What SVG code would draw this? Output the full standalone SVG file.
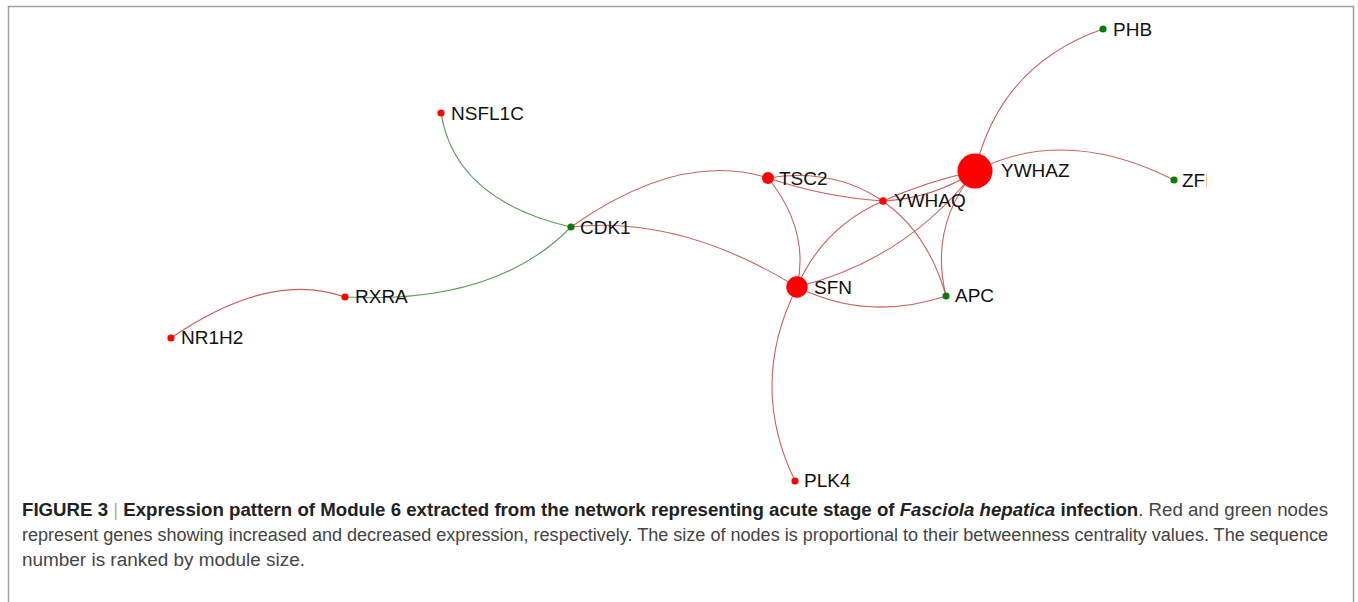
<svg xmlns="http://www.w3.org/2000/svg" width="1358" height="602" viewBox="0 0 1358 602">
<style>
.e{fill:none;stroke:#c8625e;stroke-width:1.1}
.g{fill:none;stroke:#5a9e5a;stroke-width:1.1}
.r{fill:#ff0000}
.gn{fill:#0b7a0b}
.lb{font-family:"Liberation Sans",Arial,sans-serif;font-size:19px;fill:#111}
.cap{font-family:"Liberation Sans",Arial,sans-serif;font-size:18px;fill:#444}
.b{font-weight:bold;fill:#222}
.bar{fill:#aaa}
</style>
<defs>
<clipPath id="clipZ"><rect x="0" y="0" width="1207" height="602"/></clipPath>
</defs>
<rect x="0" y="0" width="1358" height="602" fill="#fff"/>
<path d="M8.5,610 V6.5 H1353.5 V610" fill="none" stroke="#a0a0a0" stroke-width="1.5"/>
<g id="connectors">
<path class="g" d="M441,113 Q455,200 571,227"/>
<path class="g" d="M345,297 Q495,305 571,227"/>
<path class="e" d="M171,338 Q270,270 345,297"/>
<path class="e" d="M571,227 Q680,150 768,178"/>
<path class="e" d="M571,227 Q680,215 797,287"/>
<path class="e" d="M768,178 Q810,230 797,287"/>
<path class="e" d="M768,178 Q824,197 883,201"/>
<path class="e" d="M768,178 C850,165 920,205 946,296"/>
<path class="e" d="M797,287 Q823,227 883,201"/>
<path class="e" d="M797,287 Q906,260 975,171"/>
<path class="e" d="M797,287 Q868,322 946,296"/>
<path class="e" d="M797,287 Q748,384 795,481"/>
<path class="e" d="M883,201 Q925,182 975,171"/>
<path class="e" d="M883,201 Q935,198 975,171"/>
<path class="e" d="M946,296 Q929,226 975,171"/>
<path class="e" d="M975,171 Q1000,65 1103,29"/>
<path class="e" d="M975,171 Q1065,125 1174,180"/>
</g>
<g id="PHB"><circle class="gn" cx="1103" cy="29" r="3.6"/><text class="lb" x="1113" y="36">PHB</text></g>
<g id="NSFL1C"><circle class="r" cx="441" cy="113" r="3.6"/><text class="lb" x="451" y="120">NSFL1C</text></g>
<g id="YWHAZ"><circle class="r" cx="975" cy="171" r="17.5"/><text class="lb" x="1001" y="177">YWHAZ</text></g>
<g id="ZFP"><circle class="gn" cx="1174" cy="180" r="3.6"/><text class="lb" x="1182" y="187" clip-path="url(#clipZ)">ZFP</text></g>
<g id="TSC2"><circle class="r" cx="768" cy="178" r="6"/><text class="lb" x="779" y="185">TSC2</text></g>
<g id="YWHAQ"><circle class="r" cx="883" cy="201" r="3.8"/><text class="lb" x="894" y="207">YWHAQ</text></g>
<g id="CDK1"><circle class="gn" cx="571" cy="227" r="3.6"/><text class="lb" x="580" y="234">CDK1</text></g>
<g id="SFN"><circle class="r" cx="797" cy="287" r="10.7"/><text class="lb" x="814" y="294">SFN</text></g>
<g id="APC"><circle class="gn" cx="946" cy="296" r="3.6"/><text class="lb" x="955" y="302">APC</text></g>
<g id="RXRA"><circle class="r" cx="345" cy="297" r="3.6"/><text class="lb" x="355" y="303">RXRA</text></g>
<g id="NR1H2"><circle class="r" cx="171" cy="338" r="3.6"/><text class="lb" x="181" y="344">NR1H2</text></g>
<g id="PLK4"><circle class="r" cx="795" cy="481" r="3.6"/><text class="lb" x="804" y="487">PLK4</text></g>
<g id="caption">
<text class="cap" x="22" y="516" textLength="1306" lengthAdjust="spacingAndGlyphs"><tspan class="b">FIGURE 3</tspan><tspan class="bar"> | </tspan><tspan class="b">Expression pattern of Module 6 extracted from the network representing acute stage of </tspan><tspan class="b" font-style="italic">Fasciola hepatica</tspan><tspan class="b"> infection</tspan>. Red and green nodes</text>
<text class="cap" x="22" y="541" textLength="1306" lengthAdjust="spacingAndGlyphs">represent genes showing increased and decreased expression, respectively. The size of nodes is proportional to their betweenness centrality values. The sequence</text>
<text class="cap" x="22" y="566" textLength="283" lengthAdjust="spacingAndGlyphs">number is ranked by module size.</text>
</g>
</svg>
